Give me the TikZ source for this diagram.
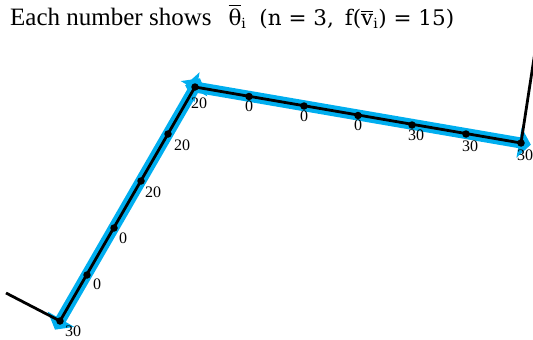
\documentclass[tikz,border=0pt]{standalone}
\usepackage{fontspec}
\usepackage{amsmath}
\setmainfont{Liberation Serif}
\newfontfamily\dvs{DejaVu Serif}
\usetikzlibrary{arrows.meta,calc}
\definecolor{pathblue}{RGB}{0,174,239}
\tikzset{
  bluepath/.style={draw=pathblue,line width=11pt,shorten <=-10pt,shorten >=-10pt,
    {Triangle[length=12pt,width=30pt]}-{Triangle[length=12pt,width=30pt]}},
  blackline/.style={draw=black,line width=2.8pt},
  dot/.style={circle,fill=black,inner sep=0pt,minimum size=7.5pt},
  lbl/.style={font=\fontsize{16}{16}\selectfont,inner sep=0pt},
}
\begin{document}
\begin{tikzpicture}[x=1pt,y=-1pt]
\useasboundingbox (0,0) rectangle (533,340);
% title
\node[anchor=base west,inner sep=0pt,font=\fontsize{25}{27}\selectfont] (title) at (10,25)
  {Each number shows\hspace{17pt}{\dvs\fontsize{21.5}{23}\selectfont$\overline{\text{\dvs θ}}_{\text{\dvs\fontsize{14}{14}\selectfont i}}$\hspace{13pt}(n = 3,\hspace{11pt}f($\overline{\text{\dvs v}}_{\text{\dvs\fontsize{14}{14}\selectfont i}}$) = 15)}};
% points
\coordinate (a0) at (60,321);
\coordinate (a1) at (87,275);
\coordinate (a2) at (114,228);
\coordinate (a3) at (141,181);
\coordinate (a4) at (168,134);
\coordinate (c) at (195,87);
\coordinate (b1) at (249,96.5);
\coordinate (b2) at (304,106);
\coordinate (b3) at (358,115.5);
\coordinate (b4) at (412,125);
\coordinate (b5) at (466,134);
\coordinate (b6) at (521,143);
\coordinate (tl) at (6,293);
\coordinate (tr) at (534.5,55);
% blue path
\draw[bluepath] (a0) -- (c);
\draw[bluepath] (c) -- (b6);
% black lines
\begin{scope}
\clip (0,0) rectangle (533,340);
\draw[blackline] (tl) -- (a0) -- (c) -- (b6) -- (tr);
\end{scope}
% dots
\foreach \p in {a0,a1,a2,a3,a4,c,b1,b2,b3,b4,b5,b6}{\node[dot] (d\p) at (\p) {};}
% labels
\node[lbl] (l0) at (73,331) {30};
\node[lbl] (l1) at (97,284) {0};
\node[lbl] (l2) at (123,238) {0};
\node[lbl] (l3) at (153,192) {20};
\node[lbl] (l4) at (182,145) {20};
\node[lbl] (l5) at (199,103) {20};
\node[lbl] (l6) at (249,106) {0};
\node[lbl] (l7) at (304,116) {0};
\node[lbl] (l8) at (358,125) {0};
\node[lbl] (l9) at (416,135) {30};
\node[lbl] (l10) at (470,146) {30};
\node[lbl] (l11) at (525,155) {30};
\end{tikzpicture}
\end{document}
